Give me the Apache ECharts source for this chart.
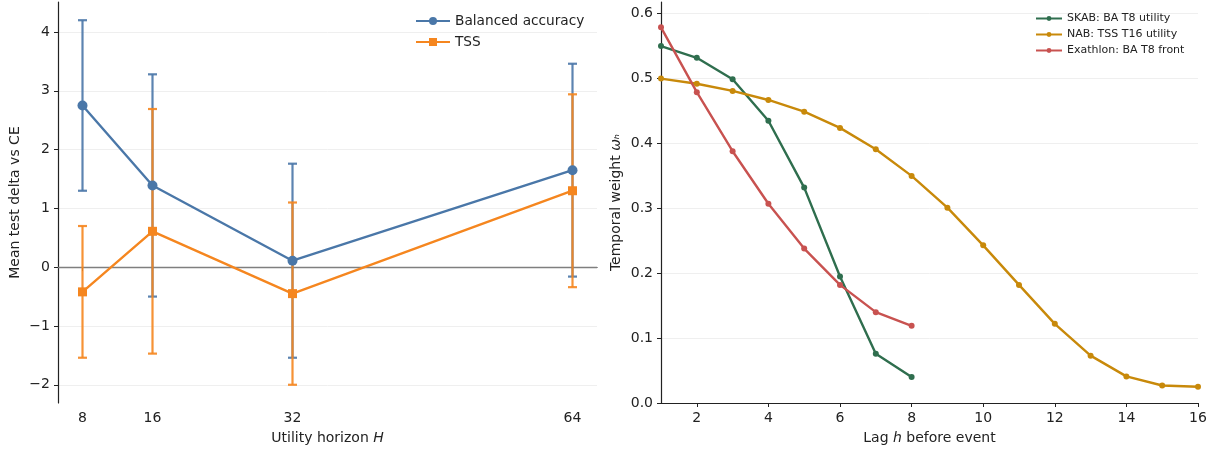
<!DOCTYPE html>
<html><head><meta charset="utf-8">
<script src="https://cdn.jsdelivr.net/npm/echarts@6/dist/echarts.min.js"></script>
<style>html,body{margin:0;padding:0;background:#fff}#c{width:1217px;height:450px}</style>
</head><body><div id="c"></div>
<script>
// ---- Left panel data ----
const horizons = [8, 16, 32, 64];
const baMean = [2.75, 1.39, 0.11, 1.65];
const baErr  = [1.45, 1.89, 1.65, 1.81];
const tssMean = [-0.42, 0.61, -0.45, 1.30];
const tssErr  = [1.12, 2.08, 1.55, 1.64];
const leftYTicks = [-2, -1, 0, 1, 2, 3, 4];
const leftXTicks = [8, 16, 32, 64];

// ---- Right panel data ----
const lagsSKAB = [1, 2, 3, 4, 5, 6, 7, 8];
const skab = [0.550, 0.532, 0.499, 0.435, 0.332, 0.195, 0.076, 0.040];
const lagsNAB = [1, 2, 3, 4, 5, 6, 7, 8, 9, 10, 11, 12, 13, 14, 15, 16];
const nab = [0.500, 0.492, 0.481, 0.467, 0.449, 0.424, 0.391, 0.350, 0.301, 0.243, 0.182, 0.122, 0.073, 0.041, 0.027, 0.025];
const lagsExa = [1, 2, 3, 4, 5, 6, 7, 8];
const exathlon = [0.579, 0.479, 0.388, 0.307, 0.238, 0.182, 0.140, 0.119];
const rightYTicks = [0, 0.1, 0.2, 0.3, 0.4, 0.5, 0.6];
const rightXTicks = [2, 4, 6, 8, 10, 12, 14, 16];

const C_BA = '#4a77a8', C_TSS = '#f5861f';
const C_SKAB = '#2f6e4e', C_NAB = '#c8890a', C_EXA = '#c85250';
const FONT = 'DejaVu Sans';
const TXT = '#222';
const TICK_FS = 14, NAME_FS = 14;

const fmtMinus = v => (v < 0 ? '\u2212' + Math.abs(v) : String(v));

function errSeries(name, xs, ms, es, color) {
  return {
    type: 'custom', xAxisIndex: 0, yAxisIndex: 0, z: 2, silent: true,
    data: xs.map((x, i) => [x, ms[i], es[i]]),
    renderItem: function (params, api) {
      const x = api.value(0), y = api.value(1), e = api.value(2);
      const t = api.coord([x, y + e]), b = api.coord([x, y - e]);
      const st = { stroke: color, lineWidth: 2.2, opacity: 0.9 };
      return { type: 'group', children: [
        { type: 'line', shape: { x1: t[0], y1: t[1], x2: b[0], y2: b[1] }, style: st },
        { type: 'line', shape: { x1: t[0] - 4.5, y1: t[1], x2: t[0] + 4.5, y2: t[1] }, style: st },
        { type: 'line', shape: { x1: b[0] - 4.5, y1: b[1], x2: b[0] + 4.5, y2: b[1] }, style: st }
      ]};
    }
  };
}

function gridLines(ticks, xi, yi) {
  return {
    type: 'line', xAxisIndex: xi, yAxisIndex: yi, data: [], silent: true, z: 0,
    markLine: {
      silent: true, symbol: 'none', label: { show: false }, animation: false, z: 0,
      lineStyle: { color: '#efefef', width: 1, type: 'solid' },
      data: ticks.filter(v => v !== 0).map(v => ({ yAxis: v }))
    }
  };
}

const axisLineStyle = { lineStyle: { color: '#222', width: 1.2 } };
const tickStyle = { show: true, length: 4, lineStyle: { color: '#222', width: 1 } };

const option = {
  animation: false,
  backgroundColor: '#fff',
  textStyle: { fontFamily: FONT },
  grid: [
    { left: 58, right: 1217 - 597, top: 2, bottom: 450 - 404 },
    { left: 661, right: 1217 - 1198, top: 2, bottom: 450 - 404 }
  ],
  legend: [
    {
      orient: 'vertical', left: 410, top: 9, itemWidth: 34, itemHeight: 10, itemGap: 7,
      textStyle: { fontFamily: FONT, fontSize: 13.7, color: TXT },
      data: ['Balanced accuracy', 'TSS']
    },
    {
      orient: 'vertical', left: 1030, top: 8, itemWidth: 26, itemHeight: 6, itemGap: 5,
      textStyle: { fontFamily: FONT, fontSize: 11, color: TXT },
      data: ['SKAB: BA T8 utility', 'NAB: TSS T16 utility', 'Exathlon: BA T8 front']
    }
  ],
  xAxis: [
    {
      gridIndex: 0, type: 'value', min: 5.2, max: 66.8,
      axisLine: axisLineStyle, axisTick: Object.assign({ customValues: leftXTicks }, tickStyle),
      axisLabel: { customValues: leftXTicks, color: TXT, fontSize: TICK_FS, fontFamily: FONT, margin: 8 },
      splitLine: { show: false },
      name: '{n|Utility horizon }{i|H}', nameLocation: 'middle', nameGap: 28,
      nameTextStyle: { rich: {
        n: { fontFamily: FONT, fontSize: NAME_FS, color: TXT },
        i: { fontFamily: FONT, fontSize: NAME_FS, color: TXT, fontStyle: 'italic' } } }
    },
    {
      gridIndex: 1, type: 'value', min: 1, max: 16,
      axisLine: axisLineStyle, axisTick: Object.assign({ customValues: rightXTicks }, tickStyle),
      axisLabel: { customValues: rightXTicks, color: TXT, fontSize: TICK_FS, fontFamily: FONT, margin: 8 },
      splitLine: { show: false },
      name: '{n|Lag }{i|h}{n| before event}', nameLocation: 'middle', nameGap: 28,
      nameTextStyle: { rich: {
        n: { fontFamily: FONT, fontSize: NAME_FS, color: TXT },
        i: { fontFamily: FONT, fontSize: NAME_FS, color: TXT, fontStyle: 'italic' } } }
    }
  ],
  yAxis: [
    {
      gridIndex: 0, type: 'value', min: -2.31, max: 4.51,
      axisLine: { show: true, lineStyle: { color: '#222', width: 1.2 } },
      axisTick: Object.assign({ customValues: leftYTicks }, tickStyle),
      axisLabel: { customValues: leftYTicks, color: TXT, fontSize: TICK_FS, fontFamily: FONT, margin: 8, formatter: fmtMinus },
      splitLine: { show: false },
      name: 'Mean test delta vs CE', nameLocation: 'middle', nameGap: 36,
      nameTextStyle: { fontFamily: FONT, fontSize: NAME_FS, color: TXT }
    },
    {
      gridIndex: 1, type: 'value', min: 0, max: 0.618,
      axisLine: { show: true, lineStyle: { color: '#222', width: 1.2 } },
      axisTick: Object.assign({ customValues: rightYTicks }, tickStyle),
      axisLabel: { customValues: rightYTicks, color: TXT, fontSize: TICK_FS, fontFamily: FONT, margin: 8,
        formatter: v => v.toFixed(1) },
      splitLine: { show: false },
      name: '{n|Temporal weight }{i|\u03c9}{s|\u2095}', nameLocation: 'middle', nameGap: 38,
      nameTextStyle: { rich: {
        n: { fontFamily: FONT, fontSize: NAME_FS, color: TXT },
        i: { fontFamily: FONT, fontSize: NAME_FS, color: TXT, fontStyle: 'italic' },
        s: { fontFamily: FONT, fontSize: 13, color: TXT, fontStyle: 'italic' } } }
    }
  ],
  series: [
    gridLines(leftYTicks, 0, 0),
    gridLines(rightYTicks, 1, 1),
    {
      type: 'line', xAxisIndex: 0, yAxisIndex: 0, data: [], silent: true, z: 1,
      markLine: { silent: true, symbol: 'none', label: { show: false }, animation: false, z: 1,
        lineStyle: { color: '#7f7f7f', width: 1.4, type: 'solid' }, data: [{ yAxis: 0 }] }
    },
    errSeries('BA err', horizons, baMean, baErr, C_BA),
    errSeries('TSS err', horizons, tssMean, tssErr, C_TSS),
    {
      name: 'Balanced accuracy', type: 'line', xAxisIndex: 0, yAxisIndex: 0, z: 3,
      data: horizons.map((x, i) => [x, baMean[i]]),
      symbol: 'circle', symbolSize: 10, showAllSymbol: true,
      lineStyle: { color: C_BA, width: 2.4 }, itemStyle: { color: C_BA }
    },
    {
      name: 'TSS', type: 'line', xAxisIndex: 0, yAxisIndex: 0, z: 3,
      data: horizons.map((x, i) => [x, tssMean[i]]),
      symbol: 'rect', symbolSize: 9, showAllSymbol: true,
      lineStyle: { color: C_TSS, width: 2.4 }, itemStyle: { color: C_TSS }
    },
    {
      name: 'SKAB: BA T8 utility', type: 'line', xAxisIndex: 1, yAxisIndex: 1, z: 3,
      data: lagsSKAB.map((x, i) => [x, skab[i]]),
      symbol: 'circle', symbolSize: 6, showAllSymbol: true,
      lineStyle: { color: C_SKAB, width: 2.4 }, itemStyle: { color: C_SKAB }
    },
    {
      name: 'NAB: TSS T16 utility', type: 'line', xAxisIndex: 1, yAxisIndex: 1, z: 3,
      data: lagsNAB.map((x, i) => [x, nab[i]]),
      symbol: 'circle', symbolSize: 6, showAllSymbol: true,
      lineStyle: { color: C_NAB, width: 2.4 }, itemStyle: { color: C_NAB }
    },
    {
      name: 'Exathlon: BA T8 front', type: 'line', xAxisIndex: 1, yAxisIndex: 1, z: 3,
      data: lagsExa.map((x, i) => [x, exathlon[i]]),
      symbol: 'circle', symbolSize: 6, showAllSymbol: true,
      lineStyle: { color: C_EXA, width: 2.4 }, itemStyle: { color: C_EXA }
    }
  ]
};

const chart = echarts.init(document.getElementById('c'), null, { renderer: 'canvas' });
chart.setOption(option);
</script>
</body></html>
